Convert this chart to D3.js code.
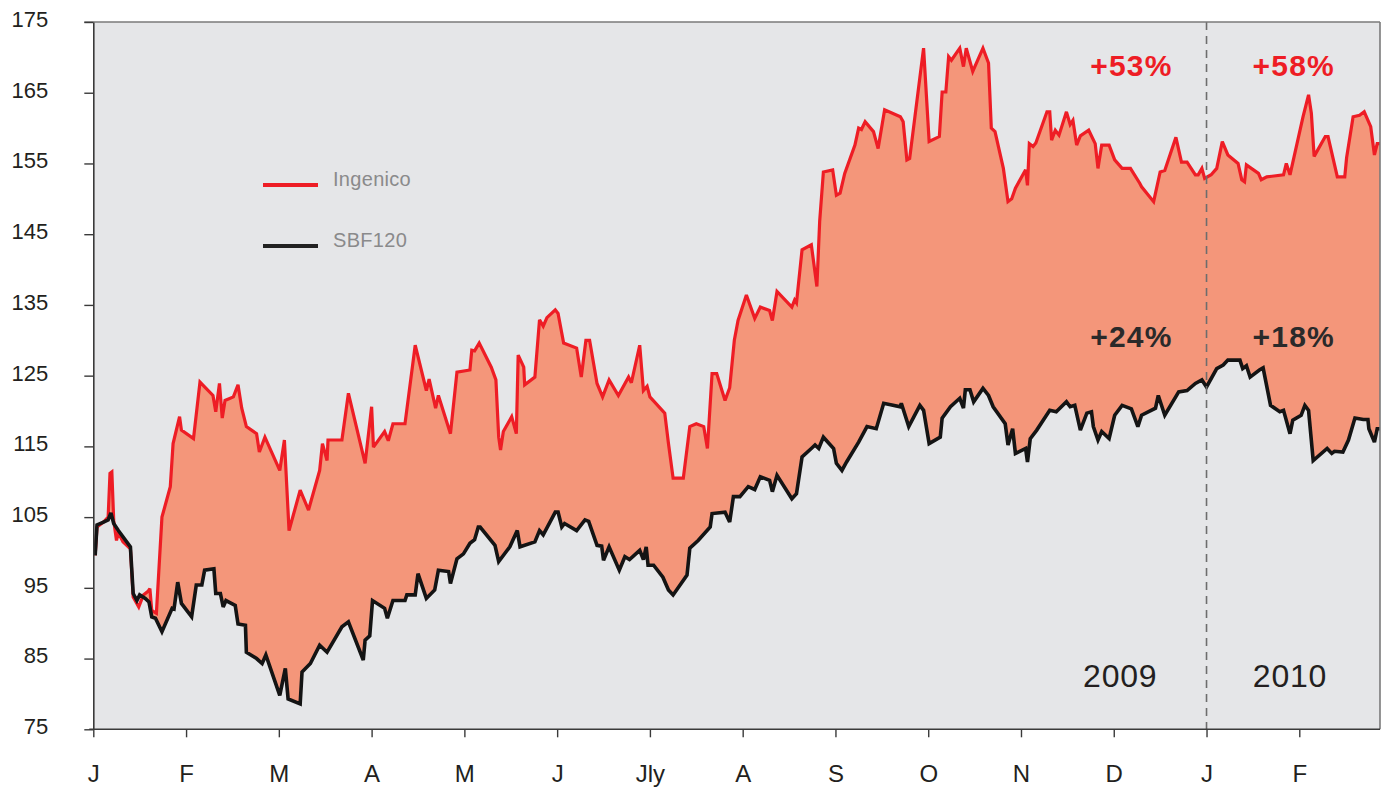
<!DOCTYPE html>
<html>
<head>
<meta charset="utf-8">
<script src="https://cdn.jsdelivr.net/npm/d3@7"></script>
<style>
  html, body { margin: 0; padding: 0; background: #ffffff; }
  svg { display: block; font-family: "Liberation Sans", Arial, Helvetica, sans-serif; }
</style>
</head>
<body>
<svg id="chart" width="1389" height="788"></svg>
<script>
// ---------- DATA (x = months since Jan 2009, y = rebased index) ----------
const monthLabels = ["J","F","M","A","M","J","Jly","A","S","O","N","D","J","F"];
const yTicks = [75, 85, 95, 105, 115, 125, 135, 145, 155, 165, 175];

const ingMonths = [0.02,0.04,0.11,0.16,0.18,0.20,0.22,0.25,0.27,0.32,0.40,0.43,0.49,0.54,0.59,0.61,0.63,0.68,0.74,0.83,
  0.86,0.93,0.95,1.08,1.15,1.29,1.32,1.36,1.39,1.42,1.51,1.56,1.60,1.65,1.76,1.79,1.85,2.01,2.06,2.11,
  2.23,2.32,2.44,2.47,2.52,2.53,2.68,2.75,2.93,3.00,3.02,3.14,3.18,3.23,3.36,3.47,3.59,3.62,3.69,3.72,
  3.85,3.92,4.06,4.08,4.11,4.16,4.29,4.34,4.37,4.39,4.42,4.51,4.56,4.58,4.64,4.65,4.76,4.81,4.85,4.89,
  4.98,5.01,5.07,5.21,5.26,5.31,5.35,5.43,5.49,5.56,5.66,5.77,5.80,5.89,5.93,5.97,6.00,6.16,6.20,6.25,
  6.36,6.43,6.50,6.58,6.62,6.67,6.72,6.81,6.86,6.91,6.95,7.04,7.13,7.19,7.29,7.32,7.37,7.53,7.56,7.58,
  7.64,7.74,7.80,7.83,7.87,7.97,8.01,8.05,8.10,8.21,8.25,8.28,8.32,8.41,8.46,8.53,8.70,8.73,8.77,8.80,
  8.95,9.01,9.12,9.15,9.19,9.22,9.25,9.34,9.38,9.41,9.48,9.59,9.65,9.68,9.72,9.81,9.86,9.90,9.94,10.05,
  10.07,10.09,10.13,10.16,10.28,10.31,10.33,10.37,10.41,10.49,10.53,10.56,10.60,10.64,10.73,10.80,10.83,10.87,10.95,11.01,
  11.09,11.18,11.28,11.30,11.43,11.50,11.55,11.67,11.73,11.79,11.88,11.91,11.95,11.98,12.05,12.11,12.17,12.23,12.34,12.38,
  12.41,12.43,12.56,12.59,12.65,12.83,12.86,12.90,13.04,13.10,13.13,13.16,13.28,13.31,13.41,13.49,13.51,13.58,13.65,13.70,
  13.77,13.81,13.84,13.87];
const ingValues = [99.6,103.6,104.3,105.0,111.2,111.4,104.5,101.7,102.8,101.5,100.5,93.7,92.3,94.0,94.5,94.9,91.8,91.4,105.0,109.3,
  115.4,119.2,117.3,116.1,124.1,122.2,119.9,123.9,119.0,121.5,122.0,123.7,120.4,117.8,116.8,114.2,116.3,111.6,115.9,103.1,
  108.8,106.0,111.6,115.4,113.0,115.9,115.9,122.5,112.6,120.6,114.9,117.1,115.8,118.2,118.2,129.3,122.9,124.5,120.4,122.2,
  116.8,125.5,125.8,128.6,128.5,129.6,126.2,124.4,116.3,114.5,117.1,119.2,116.8,127.9,126.2,123.7,124.8,132.9,132.0,133.2,
  134.3,133.8,129.6,128.9,124.8,130.0,130.0,123.9,122.0,124.4,122.2,124.8,124.0,129.3,122.9,123.5,122.0,119.7,115.4,110.5,
  110.5,117.8,118.2,117.8,114.7,125.3,125.3,121.5,123.3,130.0,132.8,136.4,133.1,134.7,134.2,132.8,136.9,134.7,135.7,135.3,
  142.8,143.5,137.6,146.8,153.8,154.1,150.5,150.8,153.6,157.6,160.0,159.8,160.9,159.5,157.1,162.6,161.6,160.9,155.5,155.7,
  171.3,158.1,158.8,165.1,165.1,170.1,169.6,171.3,168.7,171.3,168.0,171.3,169.2,160.0,159.5,154.3,149.6,150.0,151.5,154.1,
  151.9,157.8,157.4,157.9,162.3,162.3,158.3,159.7,159.0,162.3,160.5,161.1,157.6,158.9,159.7,157.8,154.3,157.6,157.6,155.5,
  154.3,154.3,152.2,151.7,149.6,153.8,154.0,158.7,155.2,155.2,153.4,153.4,154.3,152.9,153.4,154.3,158.1,156.2,155.0,152.7,
  152.4,154.8,153.6,152.7,153.1,153.4,155.0,153.4,161.6,164.7,162.1,156.0,158.8,158.8,153.1,153.1,155.8,161.6,161.8,162.3,
  160.2,156.2,157.8,157.8];

const sbfMonths = [0.02,0.04,0.11,0.16,0.19,0.22,0.27,0.40,0.43,0.47,0.50,0.56,0.60,0.63,0.67,0.74,0.85,0.87,0.91,0.95,
  1.06,1.11,1.17,1.20,1.30,1.32,1.37,1.40,1.43,1.53,1.56,1.64,1.65,1.76,1.82,1.86,2.01,2.07,2.10,2.23,
  2.25,2.34,2.44,2.52,2.68,2.75,2.91,2.93,2.98,3.01,3.14,3.17,3.23,3.36,3.38,3.47,3.50,3.59,3.68,3.72,
  3.83,3.85,3.92,3.99,4.06,4.11,4.15,4.17,4.33,4.37,4.49,4.57,4.60,4.76,4.81,4.85,4.98,5.01,5.05,5.08,
  5.21,5.30,5.34,5.43,5.48,5.50,5.56,5.67,5.73,5.78,5.89,5.93,5.96,5.98,6.04,6.14,6.20,6.25,6.40,6.43,
  6.52,6.65,6.67,6.81,6.86,6.90,6.97,7.06,7.13,7.19,7.29,7.32,7.37,7.53,7.58,7.64,7.74,7.78,7.82,7.87,
  7.98,8.01,8.07,8.12,8.25,8.34,8.44,8.52,8.70,8.71,8.79,8.91,8.95,9.01,9.13,9.15,9.24,9.34,9.38,9.40,
  9.45,9.49,9.59,9.65,9.70,9.83,9.86,9.91,9.94,10.05,10.07,10.10,10.17,10.31,10.38,10.49,10.53,10.58,10.64,10.71,
  10.76,10.78,10.83,10.87,10.95,11.01,11.09,11.19,11.26,11.30,11.45,11.48,11.55,11.70,11.79,11.88,11.95,12.00,12.11,12.18,
  12.23,12.36,12.39,12.43,12.47,12.57,12.61,12.69,12.79,12.83,12.90,12.93,13.02,13.06,13.10,13.15,13.30,13.35,13.38,13.47,
  13.53,13.60,13.69,13.74,13.75,13.81,13.84,13.87];
const sbfValues = [99.6,103.9,104.3,104.6,105.6,104.1,103.1,100.8,94.2,93.2,94.0,93.5,93.0,90.9,90.7,88.8,92.1,92.0,95.8,92.8,
  90.9,95.4,95.4,97.5,97.7,94.2,94.2,92.3,93.2,92.5,89.9,89.7,85.9,85.0,84.3,85.5,79.8,83.6,79.3,78.6,
  83.1,84.3,86.9,85.9,89.5,90.2,84.8,87.6,88.2,93.2,92.1,90.7,93.2,93.2,94.0,94.0,97.0,93.5,94.7,97.5,
  97.3,95.6,99.1,99.8,101.3,101.8,103.6,103.6,101.0,98.7,100.8,103.1,100.8,101.5,103.1,102.5,105.7,105.7,103.6,104.1,
  103.1,104.6,104.4,101.0,100.9,98.9,100.8,97.5,99.4,99.0,100.3,99.0,100.8,98.2,98.2,96.5,94.7,94.0,96.8,100.6,
  101.7,103.6,105.5,105.7,104.3,107.9,107.9,109.3,108.9,110.7,110.2,108.6,110.9,107.6,108.3,113.5,114.7,115.2,114.7,116.3,
  114.7,112.6,111.6,112.8,115.6,117.8,117.5,121.1,120.6,121.1,117.8,120.8,120.1,115.4,116.3,119.0,120.6,121.8,120.4,123.0,
  123.0,121.3,123.2,122.2,120.6,118.2,115.2,117.5,114.0,114.7,112.8,116.1,117.3,120.1,119.9,121.3,120.6,120.8,117.3,119.7,
  119.9,117.8,115.9,117.1,116.1,119.4,120.8,120.3,117.8,119.4,120.4,122.2,119.4,122.7,122.9,123.9,124.4,123.4,126.0,126.5,
  127.2,127.2,126.0,126.4,124.8,125.8,126.1,120.8,119.9,120.1,116.8,118.7,119.4,120.8,120.1,113.0,114.7,114.0,114.3,114.2,
  115.9,119.0,118.8,118.8,117.5,115.6,117.5,117.5];

const ingenico = ingMonths.map((m, i) => ({ m, v: ingValues[i] }));
const sbf120 = sbfMonths.map((m, i) => ({ m, v: sbfValues[i] }));

const seriesNames = ["Ingenico", "SBF120"];
const yearLabels = ["2009", "2010"];
const yearLabelMonths = [11.07, 12.90];
const ingChange = ["+53%", "+58%"];
const sbfChange = ["+24%", "+18%"];
const changeMonths = [11.19, 12.94];
const yearBreakMonth = 12;

// ---------- LAYOUT ----------
const svg = d3.select("#chart");
const pL = 93.3, pR = 1380, pT = 22, pB = 729.3;
const x = d3.scaleLinear().domain([0, 13.87]).range([pL, pR]);
const y = d3.scaleLinear().domain([75, 175]).range([pB, pT]);

const colRed = "#ee1d25", colBlack = "#141414", colFill = "#f4967a", colBg = "#e5e6e8";

svg.append("rect").attr("x", pL).attr("y", pT)
  .attr("width", pR - pL).attr("height", pB - pT).attr("fill", colBg);

// clip: region above SBF120 line
const defs = svg.append("defs");
defs.append("clipPath").attr("id", "aboveSbf")
  .append("path")
  .attr("d", d3.area().x(d => x(d.m)).y0(pT).y1(d => y(d.v))(sbf120));

// fill: region below Ingenico, clipped to above SBF120
svg.append("path")
  .attr("d", d3.area().x(d => x(d.m)).y0(pB).y1(d => y(d.v))(ingenico))
  .attr("fill", colFill)
  .attr("clip-path", "url(#aboveSbf)");

const line = d3.line().x(d => x(d.m)).y(d => y(d.v));

svg.append("path").attr("d", line(ingenico))
  .attr("fill", "none").attr("stroke", colRed).attr("stroke-width", 3.2)
  .attr("stroke-linejoin", "miter").attr("stroke-miterlimit", 3);
svg.append("path").attr("d", line(sbf120))
  .attr("fill", "none").attr("stroke", colBlack).attr("stroke-width", 3.6)
  .attr("stroke-linejoin", "miter").attr("stroke-miterlimit", 3);

// year separator
svg.append("line")
  .attr("x1", x(yearBreakMonth)).attr("x2", x(yearBreakMonth))
  .attr("y1", pT).attr("y2", pB)
  .attr("stroke", "#6d6d6d").attr("stroke-width", 1.6).attr("stroke-dasharray", "8,6");

// frame: top and right borders
svg.append("line").attr("x1", pL - 9).attr("x2", pR).attr("y1", pT).attr("y2", pT)
  .attr("stroke", "#7a7a7a").attr("stroke-width", 1.6);
svg.append("line").attr("x1", pR).attr("x2", pR).attr("y1", pT).attr("y2", pB)
  .attr("stroke", "#7a7a7a").attr("stroke-width", 1.6);

// axes
const yAxis = svg.append("g").attr("transform", `translate(${pL},0)`)
  .call(d3.axisLeft(y).tickValues(yTicks).tickSize(9).tickSizeOuter(0).tickFormat(d3.format("d")));
yAxis.select(".domain").attr("stroke", "#3a3a3a").attr("stroke-width", 1.6);
yAxis.selectAll(".tick line").attr("stroke", "#3a3a3a").attr("stroke-width", 1.4);
yAxis.selectAll(".tick text")
  .attr("x", -45).attr("dy", "0.2em")
  .attr("fill", "#231f20").attr("font-size", 22)
  .attr("font-family", "'Liberation Sans', Arial, sans-serif");

const xAxis = svg.append("g").attr("transform", `translate(0,${pB})`)
  .call(d3.axisBottom(x).tickValues(d3.range(monthLabels.length)).tickSize(8).tickSizeOuter(0)
    .tickFormat(i => monthLabels[i]));
xAxis.select(".domain").attr("stroke", "#3a3a3a").attr("stroke-width", 1.6)
  .attr("d", `M${pL - 4},0H${pR}`);
xAxis.selectAll(".tick line").attr("stroke", "#3a3a3a").attr("stroke-width", 1.4);
xAxis.selectAll(".tick text")
  .attr("y", 52.7).attr("dy", "0")
  .attr("fill", "#231f20").attr("font-size", 24)
  .attr("font-family", "'Liberation Sans', Arial, sans-serif");

// legend
const legend = svg.append("g");
const legendY = [185, 246];
const legendCol = [colRed, "#222222"];
seriesNames.forEach((name, i) => {
  legend.append("line").attr("x1", 263).attr("x2", 318).attr("y1", legendY[i]).attr("y2", legendY[i])
    .attr("stroke", legendCol[i]).attr("stroke-width", 4);
  legend.append("text").attr("x", 333).attr("y", legendY[i] + 1)
    .attr("fill", "#8a8a8b").attr("font-size", 20).attr("letter-spacing", 0.3).text(name);
});

// annotations
ingChange.forEach((t, i) => {
  svg.append("text").attr("x", x(changeMonths[i])).attr("y", 76)
    .attr("text-anchor", "middle").attr("font-size", 30).attr("font-weight", "bold")
    .attr("letter-spacing", 1.2).attr("fill", "#ee1d25").text(t);
});
sbfChange.forEach((t, i) => {
  svg.append("text").attr("x", x(changeMonths[i])).attr("y", 347)
    .attr("text-anchor", "middle").attr("font-size", 30).attr("font-weight", "bold")
    .attr("letter-spacing", 1.2).attr("fill", "#2b2a2a").text(t);
});
yearLabels.forEach((t, i) => {
  svg.append("text").attr("x", x(yearLabelMonths[i])).attr("y", 687)
    .attr("text-anchor", "middle").attr("font-size", 32).attr("letter-spacing", 0.8)
    .attr("fill", "#231f20").text(t);
});
</script>
</body>
</html>
